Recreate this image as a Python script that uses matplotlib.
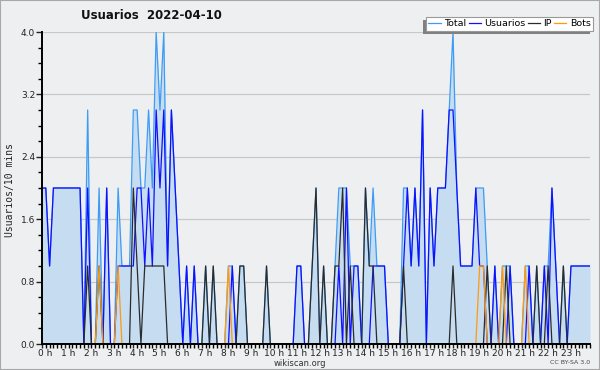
"""
Usuarios por 10 minutos - 2022-04-10 (wikiscan style chart)
"""

import numpy as np
import matplotlib
matplotlib.use("Agg")
import matplotlib.pyplot as plt
import matplotlib.transforms as mtransforms
from matplotlib.patches import Rectangle
from matplotlib.ticker import MultipleLocator

# one row per hour, six 10-minute slots, plus the closing point at 24 h
TOTAL = [
    2, 2, 1, 2, 2, 2,
    2, 2, 2, 2, 2, 0,
    3, 0, 0, 2, 0, 2,
    0, 0, 2, 1, 1, 1,
    3, 3, 2, 2, 3, 2,
    4, 3, 4, 1, 3, 2,
    1, 0, 1, 0, 1, 0,
    0, 1, 0, 1, 0, 0,
    0, 1, 1, 0, 1, 1,
    0, 0, 0, 0, 0, 1,
    0, 0, 0, 0, 0, 0,
    0, 1, 1, 0, 0, 1,
    2, 0, 1, 0, 0, 1,
    2, 2, 2, 1, 1, 1,
    0, 2, 1, 2, 1, 1,
    1, 0, 0, 0, 0, 2,
    2, 1, 2, 1, 3, 0,
    2, 1, 2, 2, 2, 3,
    4, 2, 1, 1, 1, 1,
    2, 2, 2, 1, 0, 1,
    0, 1, 1, 1, 0, 0,
    0, 1, 1, 0, 1, 0,
    1, 1, 2, 1, 0, 1,
    0, 1, 1, 1, 1, 1,
    1,
]
USUARIOS = [
    2, 2, 1, 2, 2, 2,
    2, 2, 2, 2, 2, 0,
    2, 0, 0, 0, 0, 2,
    0, 0, 1, 1, 1, 1,
    1, 2, 2, 1, 2, 1,
    3, 2, 3, 1, 3, 2,
    1, 0, 1, 0, 1, 0,
    0, 0, 0, 0, 0, 0,
    0, 0, 1, 0, 0, 0,
    0, 0, 0, 0, 0, 0,
    0, 0, 0, 0, 0, 0,
    0, 1, 1, 0, 0, 0,
    0, 0, 0, 0, 0, 0,
    1, 0, 2, 0, 1, 1,
    0, 0, 0, 1, 1, 1,
    1, 0, 0, 0, 0, 1,
    2, 1, 2, 1, 3, 0,
    2, 1, 2, 2, 2, 3,
    3, 2, 1, 1, 1, 1,
    2, 1, 1, 0, 0, 1,
    0, 0, 0, 1, 0, 0,
    0, 0, 1, 0, 0, 0,
    1, 0, 2, 1, 0, 0,
    0, 1, 1, 1, 1, 1,
    1,
]
IP = [
    0, 0, 0, 0, 0, 0,
    0, 0, 0, 0, 0, 0,
    1, 0, 0, 1, 0, 0,
    0, 0, 0, 0, 0, 0,
    2, 1, 0, 1, 1, 1,
    1, 1, 1, 0, 0, 0,
    0, 0, 0, 0, 0, 0,
    0, 1, 0, 1, 0, 0,
    0, 0, 0, 0, 1, 1,
    0, 0, 0, 0, 0, 1,
    0, 0, 0, 0, 0, 0,
    0, 0, 0, 0, 0, 1,
    2, 0, 1, 0, 0, 1,
    1, 2, 0, 1, 0, 0,
    0, 2, 1, 1, 0, 0,
    0, 0, 0, 0, 0, 1,
    0, 0, 0, 0, 0, 0,
    0, 0, 0, 0, 0, 0,
    1, 0, 0, 0, 0, 0,
    0, 0, 0, 1, 0, 0,
    0, 0, 1, 0, 0, 0,
    0, 0, 0, 0, 1, 0,
    0, 1, 0, 0, 0, 1,
    0, 0, 0, 0, 0, 0,
    0,
]
BOTS = [
    0, 0, 0, 0, 0, 0,
    0, 0, 0, 0, 0, 0,
    0, 0, 0, 1, 0, 0,
    0, 0, 1, 0, 0, 0,
    0, 0, 0, 0, 0, 0,
    0, 0, 0, 0, 0, 0,
    0, 0, 0, 0, 0, 0,
    0, 0, 0, 0, 0, 0,
    0, 1, 0, 0, 0, 0,
    0, 0, 0, 0, 0, 0,
    0, 0, 0, 0, 0, 0,
    0, 0, 0, 0, 0, 0,
    0, 0, 0, 0, 0, 0,
    0, 0, 0, 0, 0, 0,
    0, 0, 0, 0, 0, 0,
    0, 0, 0, 0, 0, 0,
    0, 0, 0, 0, 0, 0,
    0, 0, 0, 0, 0, 0,
    0, 0, 0, 0, 0, 0,
    0, 1, 1, 0, 0, 0,
    0, 1, 0, 0, 0, 0,
    0, 1, 0, 0, 0, 0,
    0, 0, 0, 0, 0, 0,
    0, 0, 0, 0, 0, 0,
    0,
]
HOUR_LABELS = [f"{h} h" for h in range(24)]
Y_TICKS = [0.0, 0.8, 1.6, 2.4, 3.2, 4.0]

BG = "#eeeff0"


def main():
    x = np.arange(len(TOTAL)) / 6.0  # hours

    fig = plt.figure(figsize=(6, 3.7), dpi=100, facecolor=BG)
    ax = fig.add_axes([42 / 600, 26 / 370, 548 / 600, 312 / 370])
    ax.set_facecolor(BG)

    ax.fill_between(x, TOTAL, color="#c6dcf0", lw=0)
    ax.plot(x, TOTAL, color="#3d9cf5", lw=0.9, label="Total")
    ax.plot(x, USUARIOS, color="#1010ff", lw=0.9, label="Usuarios")
    ax.plot(x, IP, color="#2b2b2b", lw=0.9, label="IP")
    ax.plot(x, BOTS, color="#ff9a10", lw=0.9, label="Bots")

    ax.set_xlim(0, 24)
    ax.set_ylim(0, 4)
    ax.set_yticks(Y_TICKS)
    ax.set_yticklabels([f"{v:.1f}" for v in Y_TICKS])
    ax.yaxis.set_minor_locator(MultipleLocator(0.2))
    ax.set_xticks(range(24))
    ax.set_xticklabels(HOUR_LABELS)
    ax.xaxis.set_minor_locator(MultipleLocator(1 / 6))
    ax.yaxis.grid(True, color="#c8c8c8", lw=0.9)
    ax.set_axisbelow(True)

    for side in ("top", "right"):
        ax.spines[side].set_visible(False)
    for side in ("left", "bottom"):
        ax.spines[side].set_linewidth(1.4)
        ax.spines[side].set_color("black")

    ax.tick_params(which="major", length=4, width=1, labelsize=6.5, pad=1,
                   colors="#222222")
    ax.tick_params(axis="x", which="major", length=3, pad=0.5)
    ax.tick_params(which="minor", length=3, width=1)
    shift = mtransforms.ScaledTranslation(3.5 / 100, 0, fig.dpi_scale_trans)
    for lbl in ax.get_xticklabels():
        lbl.set_transform(lbl.get_transform() + shift)

    fig.text(0.2525, 0.957, "Usuarios  2022-04-10", ha="center", va="center",
             fontsize=8.5, fontweight="bold", color="#111111")
    fig.text(10 / 600, 0.486, "Usuarios/10 mins", rotation=90, ha="center",
             va="center", fontsize=7, family="DejaVu Sans Mono", color="#222222")
    fig.text(0.5, 1 - 363 / 370, "wikiscan.org", ha="center", va="center",
             fontsize=6, color="#333333")
    fig.text(590 / 600, 1 - 363 / 370, "CC BY-SA 3.0", ha="right", va="center",
             fontsize=4.5, color="#444444")

    leg = fig.legend(loc="upper right", bbox_to_anchor=(593 / 600, 1 - 17 / 370),
                     ncol=4, fontsize=6.8, frameon=True, fancybox=False,
                     edgecolor="#999999", framealpha=1, borderpad=0.25,
                     handlelength=1.3, handletextpad=0.35, columnspacing=0.25,
                     borderaxespad=0)
    leg.get_frame().set_linewidth(0.8)
    leg.set_zorder(5)

    # drop shadow down-left of the legend box
    fig.canvas.draw()
    bb = leg.get_window_extent()
    shadow = Rectangle((bb.x0 - 3, bb.y0 - 3), bb.width, bb.height,
                       transform=mtransforms.IdentityTransform(),
                       facecolor="#808080", edgecolor="none", zorder=4)
    fig.add_artist(shadow)

    fig.add_artist(Rectangle((0, 0), 1, 1, transform=fig.transFigure,
                             fill=False, edgecolor="#a8a8a8", lw=1.5))

    fig.savefig("out.png", dpi=100, facecolor=BG)
    plt.close(fig)


if __name__ == "__main__":
    main()
